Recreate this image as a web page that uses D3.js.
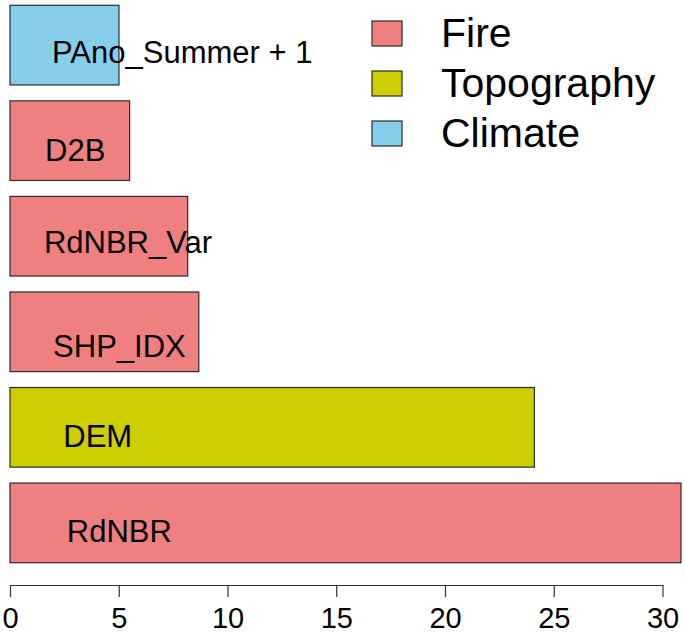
<!DOCTYPE html>
<html>
<head>
<meta charset="utf-8">
<script src="https://cdn.jsdelivr.net/npm/d3@7"></script>
<style>
  body { margin: 0; background: #fff; }
  text { font-family: "Liberation Sans", Arial, sans-serif; }
</style>
</head>
<body>
<div id="chart"></div>
<script>
// variables, top to bottom as drawn
const names = ['PAno_Summer + 1', 'D2B', 'RdNBR_Var', 'SHP_IDX', 'DEM', 'RdNBR'];
const values = [5.01, 5.50, 8.17, 8.68, 24.11, 30.85];
const groups = ['Climate', 'Fire', 'Fire', 'Fire', 'Topography', 'Fire'];

const legendLabels = ['Fire', 'Topography', 'Climate'];
const legendColors = ['#F08080', '#CDCD00', '#87CEEB'];
const ticks = [0, 5, 10, 15, 20, 25, 30];

// label placement inside each bar (x start in data units, baseline offset in px)
const labelStart = [1.93, 1.61, 1.56, 1.98, 2.45, 2.61];
const labelDy = [17.6, 20.3, 16.5, 24.9, 19.4, 19.4];

const width = 685, height = 634;

const svg = d3.select('#chart').append('svg')
    .attr('width', width)
    .attr('height', height);

const x = d3.scaleLinear().domain([0, 30]).range([10, 662.5]);
const y = d3.scaleBand().domain(names).range([5.3, 562.7])
    .paddingInner(0.2 / 1.2).paddingOuter(0);
const color = d3.scaleOrdinal().domain(legendLabels).range(legendColors);

const bars = svg.append('g');
bars.selectAll('rect')
  .data(names)
  .join('rect')
    .attr('x', x(0))
    .attr('y', d => y(d))
    .attr('width', (d, i) => x(values[i]) - x(0))
    .attr('height', y.bandwidth())
    .attr('fill', (d, i) => color(groups[i]))
    .attr('stroke', '#2b2b2b')
    .attr('stroke-width', 1.2);

bars.selectAll('text')
  .data(names)
  .join('text')
    .attr('x', (d, i) => x(labelStart[i]))
    .attr('y', (d, i) => y(d) + y.bandwidth() / 2 + labelDy[i])
    .attr('font-size', 31)
    .attr('fill', '#000')
    .text(d => d);

// x axis, base graphics style
const axis = svg.append('g')
    .attr('transform', 'translate(0,585)')
    .call(d3.axisBottom(x).tickValues(ticks).tickSize(12).tickPadding(10).tickSizeOuter(0));
axis.select('.domain').attr('stroke', '#333').attr('stroke-width', 1.2);
axis.selectAll('.tick line').attr('stroke', '#333').attr('stroke-width', 1.2);
axis.selectAll('.tick text')
    .attr('font-size', 29)
    .attr('font-family', '"Liberation Sans", Arial, sans-serif')
    .attr('fill', '#000');

// legend
const legend = svg.append('g');
const leg = legend.selectAll('g')
  .data(legendLabels)
  .join('g')
    .attr('transform', (d, i) => `translate(372,${21 + i * 50})`);
leg.append('rect')
    .attr('width', 30)
    .attr('height', 25)
    .attr('fill', d => color(d))
    .attr('stroke', '#2b2b2b')
    .attr('stroke-width', 1.2);
leg.append('text')
    .attr('x', 69)
    .attr('y', 26)
    .attr('font-size', 41)
    .attr('fill', '#000')
    .text(d => d);
</script>
</body>
</html>
